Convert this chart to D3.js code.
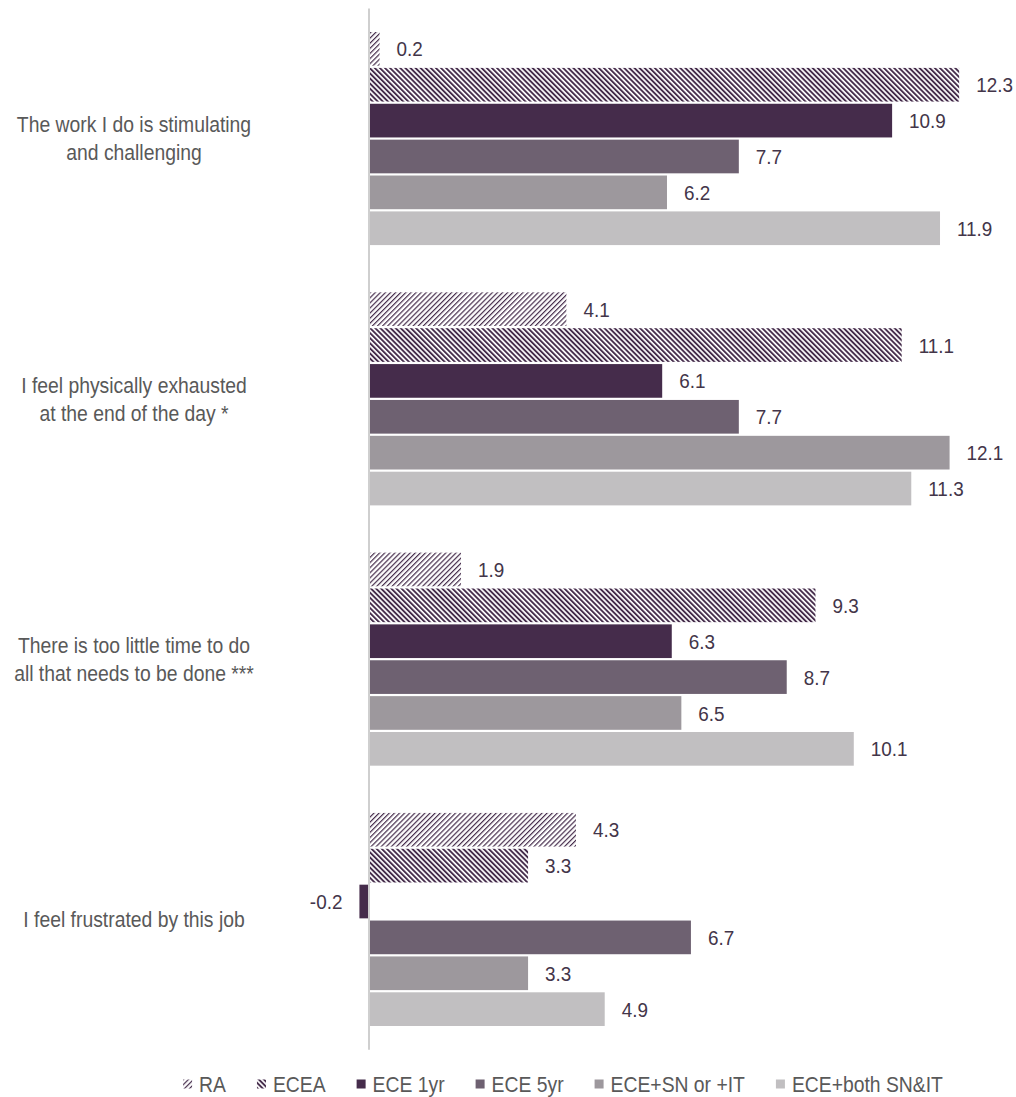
<!DOCTYPE html>
<html><head><meta charset="utf-8">
<script src="https://cdn.jsdelivr.net/npm/d3@7"></script>
<style>body{margin:0;background:#fff}svg{display:block}text{font-family:"Liberation Sans",Arial,sans-serif}</style>
</head><body>
<svg id="c" width="1016" height="1097"></svg>
<script>
const categories = [
  ["The work I do is stimulating", "and challenging"],
  ["I feel physically exhausted", "at the end of the day *"],
  ["There is too little time to do", "all that needs to be done ***"],
  ["I feel frustrated by this job"]
];
const seriesNames = ["RA", "ECEA", "ECE 1yr", "ECE 5yr", "ECE+SN or +IT", "ECE+both SN&IT"];
const RA      = [0.2, 4.1, 1.9, 4.3];
const ECEA    = [12.3, 11.1, 9.3, 3.3];
const ECE1yr  = [10.9, 6.1, 6.3, -0.2];
const ECE5yr  = [7.7, 7.7, 8.7, 6.7];
const ECESN   = [6.2, 12.1, 6.5, 3.3];
const ECEboth = [11.9, 11.3, 10.1, 4.9];
const seriesValues = [RA, ECEA, ECE1yr, ECE5yr, ECESN, ECEboth];

const dark = "#452c4b";
const fills = ["url(#hRA)", "url(#hECEA)", dark, "#6e6171", "#9d989d", "#c1bfc1"];
const SX = 0.9;

const svg = d3.select("#c");
const defs = svg.append("defs");
function hatch(id, angle, w) {
  const p = defs.append("pattern").attr("id", id).attr("patternUnits", "userSpaceOnUse")
    .attr("width", 3.6).attr("height", 3.6).attr("patternTransform", `rotate(${angle})`);
  p.append("rect").attr("width", 3.6).attr("height", 3.6).attr("fill", "#fff");
  p.append("rect").attr("width", w).attr("height", 3.6).attr("fill", dark);
}
hatch("hRA", 45, 1.2);
hatch("hECEA", -45, 1.9);

const catIdx = d3.range(categories.length);
const y = d3.scaleBand().domain(catIdx).range([8.5, 1049.7]).paddingInner(0.173).paddingOuter(0.0865);
const ys = d3.scaleBand().domain(d3.range(seriesNames.length)).range([0, y.bandwidth()]);
const x = d3.scaleLinear().domain([0, 12]).range([369, 943.8]);
const fmt = v => v.toFixed(1);

const g = svg.append("g");
catIdx.forEach(ci => {
  seriesValues.forEach((vals, si) => {
    const v = vals[ci];
    const top = y(ci) + ys(si) + 1;
    const h = ys.bandwidth() - 2.2;
    g.append("rect")
      .attr("x", Math.min(x(0), x(v)) + (v >= 0 ? 1 : 0))
      .attr("y", top).attr("width", Math.abs(x(v) - x(0)))
      .attr("height", h).attr("fill", fills[si]);
    g.append("text")
      .attr("transform", `translate(${v >= 0 ? x(v) + 18 : x(v) - 17},${top + h / 2}) scale(${SX},1)`)
      .attr("dy", "0.36em")
      .attr("text-anchor", v >= 0 ? "start" : "end")
      .attr("font-size", "21px").attr("fill", "#433549")
      .text(fmt(v));
  });
  const lines = categories[ci];
  const cy = y(ci) + y.bandwidth() / 2;
  const lh = 28;
  const t = g.append("text").attr("transform", `translate(134,0) scale(${SX},1)`)
    .attr("text-anchor", "middle").attr("font-size", "21.5px").attr("fill", "#595959");
  lines.forEach((ln, li) => {
    t.append("tspan").attr("x", 0)
      .attr("y", cy + (li - (lines.length - 1) / 2) * lh).attr("dy", "0.36em").text(ln);
  });
});

// vertical axis line at zero
svg.append("line").attr("x1", x(0)).attr("x2", x(0)).attr("y1", y.range()[0]).attr("y2", y.range()[1])
  .attr("stroke", "#cfcfcf").attr("stroke-width", 2);

// legend
const leg = svg.append("g");
let cx = 0;
seriesNames.forEach((n, i) => {
  const it = leg.append("g").attr("transform", `translate(${cx},0)`);
  it.append("rect").attr("x", 0).attr("y", -4.5).attr("width", 9).attr("height", 9).attr("fill", fills[i]);
  const tx = it.append("text").attr("transform", `translate(16,0) scale(${SX},1)`)
    .attr("dy", "0.36em").attr("font-size", "21.5px")
    .attr("fill", "#595959").text(n);
  cx += 16 + tx.node().getComputedTextLength() * SX + 31;
});
const legW = cx - 31;
leg.attr("transform", `translate(${563 - legW / 2},1084)`);
</script>
</body></html>
